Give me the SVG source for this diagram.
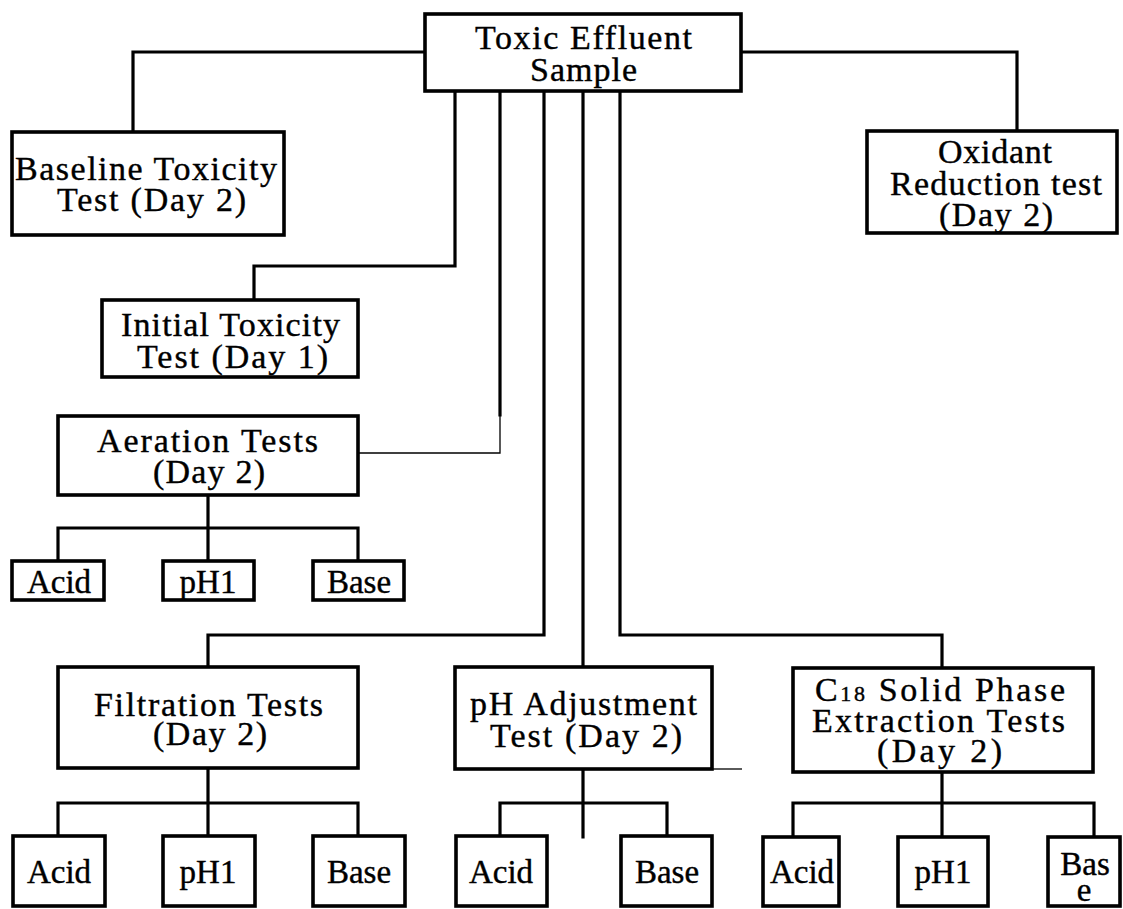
<svg xmlns="http://www.w3.org/2000/svg" width="1123" height="909" viewBox="0 0 1123 909">
<style>
.box{fill:#fff;stroke:#000;stroke-width:3.6}
.ln{fill:none;stroke:#000;stroke-width:3.2;stroke-linecap:square}
.thin{fill:none;stroke:#000;stroke-width:1.3}
.t{font-family:"Liberation Serif","Times New Roman",serif;font-size:34px;fill:#000;stroke:#000;stroke-width:0.4}
.s{font-family:"Liberation Serif","Times New Roman",serif;font-size:33px;fill:#000;stroke:#000;stroke-width:0.4;text-anchor:middle}
</style>
<rect width="1123" height="909" fill="#fff"/>
<g id="connectors">
<path class="ln" d="M425,52 H133 V132"/>
<path class="ln" d="M741,52 H1017 V131"/>
<path class="ln" d="M455,91 V266 H254 V300"/>
<path class="ln" d="M500,91 V415"/>
<path class="thin" d="M500,415 V453 H358"/>
<path class="ln" d="M544,91 V635 H208 V667"/>
<path class="ln" d="M583,91 V667"/>
<path class="ln" d="M620,91 V635 H942 V668"/>
<path class="ln" d="M208,495 V528 M58,528 H358 M58,528 V561 M208,528 V561 M358,528 V561"/>
<path class="ln" d="M208,768 V803 M58,803 H358 M58,803 V836 M208,803 V836 M358,803 V836"/>
<path class="ln" d="M583,769 V837 M500,803 H667 M500,803 V836 M667,803 V836"/>
<path class="thin" d="M712,769 H742"/>
<path class="ln" d="M942,772 V803 M793,803 H1094 M793,803 V837 M942,803 V837 M1094,803 V837"/>
</g>
<g id="n-sample">
<rect class="box" x="425" y="14" width="316" height="77"/>
<text class="t" x="475" y="49" textLength="217" lengthAdjust="spacing">Toxic Effluent</text>
<text class="t" x="530" y="81" textLength="107" lengthAdjust="spacing">Sample</text>
</g>
<g id="n-baseline">
<rect class="box" x="12" y="132" width="272" height="103"/>
<text class="t" x="15" y="180" textLength="262" lengthAdjust="spacing">Baseline Toxicity</text>
<text class="t" x="57" y="211" textLength="189" lengthAdjust="spacing">Test (Day 2)</text>
</g>
<g id="n-oxidant">
<rect class="box" x="867" y="131" width="250" height="102"/>
<text class="t" x="938" y="163" textLength="114" lengthAdjust="spacing">Oxidant</text>
<text class="t" x="890" y="195" textLength="212" lengthAdjust="spacing">Reduction test</text>
<text class="t" x="939" y="226" textLength="114" lengthAdjust="spacing">(Day 2)</text>
</g>
<g id="n-initial">
<rect class="box" x="102" y="300" width="256" height="77"/>
<text class="t" x="121" y="336" textLength="219" lengthAdjust="spacing">Initial Toxicity</text>
<text class="t" x="137" y="368" textLength="191" lengthAdjust="spacing">Test (Day 1)</text>
</g>
<g id="n-aeration">
<rect class="box" x="58" y="416" width="300" height="79"/>
<text class="t" x="97" y="452" textLength="221" lengthAdjust="spacing">Aeration Tests</text>
<text class="t" x="153" y="483" textLength="112" lengthAdjust="spacing">(Day 2)</text>
</g>
<g id="n-aer-acid"><rect class="box" x="12" y="561" width="92" height="39"/><text class="s" x="59" y="593">Acid</text></g>
<g id="n-aer-ph1"><rect class="box" x="163" y="561" width="91" height="39"/><text class="s" x="208" y="593">pH1</text></g>
<g id="n-aer-base"><rect class="box" x="313" y="561" width="91" height="39"/><text class="s" x="359" y="593">Base</text></g>
<g id="n-filtration">
<rect class="box" x="58" y="667" width="300" height="101"/>
<text class="t" x="94" y="716" textLength="229" lengthAdjust="spacing">Filtration Tests</text>
<text class="t" x="153" y="745" textLength="114" lengthAdjust="spacing">(Day 2)</text>
</g>
<g id="n-fil-acid"><rect class="box" x="13" y="836" width="92" height="70"/><text class="s" x="59" y="883">Acid</text></g>
<g id="n-fil-ph1"><rect class="box" x="163" y="836" width="92" height="70"/><text class="s" x="208" y="883">pH1</text></g>
<g id="n-fil-base"><rect class="box" x="313" y="836" width="92" height="70"/><text class="s" x="359" y="883">Base</text></g>
<g id="n-ph">
<rect class="box" x="455" y="667" width="257" height="102"/>
<text class="t" x="470" y="715" textLength="227" lengthAdjust="spacing">pH Adjustment</text>
<text class="t" x="490" y="747" textLength="192" lengthAdjust="spacing">Test (Day 2)</text>
</g>
<g id="n-ph-acid"><rect class="box" x="456" y="836" width="91" height="70"/><text class="s" x="501" y="883">Acid</text></g>
<g id="n-ph-base"><rect class="box" x="621" y="836" width="91" height="70"/><text class="s" x="667" y="883">Base</text></g>
<g id="n-c18">
<rect class="box" x="793" y="668" width="300" height="104"/>
<text class="t" x="815" y="701" textLength="250" lengthAdjust="spacing">C<tspan font-size="22">18</tspan> Solid Phase</text>
<text class="t" x="812" y="732" textLength="253" lengthAdjust="spacing">Extraction Tests</text>
<text class="t" x="877" y="762" textLength="125" lengthAdjust="spacing">(Day 2)</text>
</g>
<g id="n-c18-acid"><rect class="box" x="763" y="837" width="76" height="69"/><text class="s" x="802" y="883">Acid</text></g>
<g id="n-c18-ph1"><rect class="box" x="898" y="837" width="90" height="69"/><text class="s" x="943" y="883">pH1</text></g>
<g id="n-c18-base"><rect class="box" x="1048" y="837" width="72" height="69"/><text class="s" x="1085" y="875">Bas</text><text class="s" x="1084" y="901">e</text></g>
</svg>
